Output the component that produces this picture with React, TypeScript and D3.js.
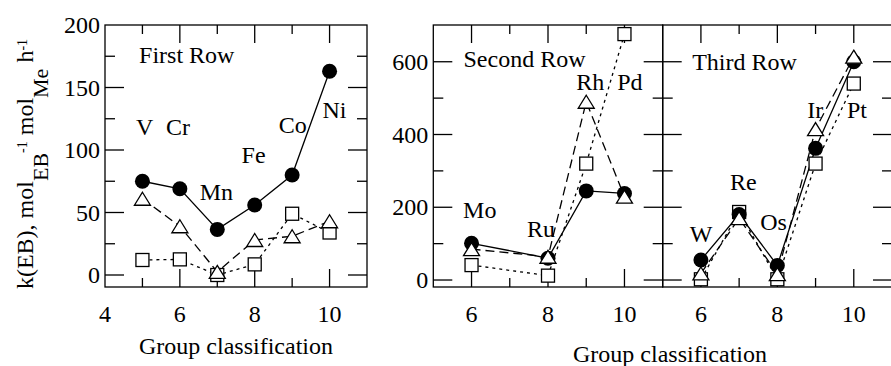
import React from 'react';
import * as d3 from 'd3';

// group numbers and k(EB) values
const groupsFirst = [5, 6, 7, 8, 9, 10];
const firstCircle = [75, 69, 36.5, 56, 80, 163];
const firstTriangle = [61, 39, 2.5, 28, 31, 43];
const firstSquare = [12, 12.5, 0, 8.5, 49, 34];

const groupsSecond = [6, 8, 9, 10];
const secondCircle = [101, 60, 245, 238];
const secondTriangle = [85, 64, 490, 229];
const secondSquare = [41, 12, 320, 676];

const groupsThird = [6, 7, 8, 9, 10];
const thirdCircle = [55, 180, 40, 362, 600];
const thirdTriangle = [18, 170, 16, 415, 614];
const thirdSquare = [2, 187, 2, 320, 540];

// element labels, anchored at (group, value) = text start / baseline
const firstLabels = [
	{ text: 'First Row', g: 4.91, v: 170 },
	{ text: 'V', g: 4.83, v: 112 },
	{ text: 'Cr', g: 5.63, v: 112 },
	{ text: 'Mn', g: 6.53, v: 60 },
	{ text: 'Fe', g: 7.65, v: 90 },
	{ text: 'Co', g: 8.64, v: 113.5 },
	{ text: 'Ni', g: 9.81, v: 125.5 },
];
const secondLabels = [
	{ text: 'Second Row', g: 5.79, v: 586 },
	{ text: 'Mo', g: 5.78, v: 170 },
	{ text: 'Ru', g: 7.45, v: 118 },
	{ text: 'Rh', g: 8.74, v: 522 },
	{ text: 'Pd', g: 9.81, v: 522 },
];
const thirdLabels = [
	{ text: 'Third Row', g: 5.77, v: 577 },
	{ text: 'W', g: 5.71, v: 104 },
	{ text: 'Re', g: 6.76, v: 247 },
	{ text: 'Os', g: 7.55, v: 137 },
	{ text: 'Ir', g: 8.78, v: 445 },
	{ text: 'Pt', g: 9.82, v: 445 },
];

const firstXTicks = [4, 6, 8, 10];
const otherXTicks = [6, 8, 10];
const firstYTicks = [0, 50, 100, 150, 200];
const otherYTicks = [0, 200, 400, 600];

const FONT = '"Liberation Serif", "Times New Roman", serif';
const TOP = 25;
const BOTTOM = 287;

type Label = { text: string; g: number; v: number };

interface PanelProps {
	xDomain: [number, number];
	xRange: [number, number];
	yDomain: [number, number];
	groups: number[];
	circle: number[];
	triangle: number[];
	square: number[];
	labels: Label[];
	xTicks: number[];
	yTicks: number[] | null;
	yMinorStep: number;
	yMajorStep: number;
}

const Panel: React.FC<PanelProps> = ({
	xDomain,
	xRange,
	yDomain,
	groups,
	circle,
	triangle,
	square,
	labels,
	xTicks,
	yTicks,
	yMinorStep,
	yMajorStep,
}) => {
	const x = d3.scaleLinear().domain(xDomain).range(xRange);
	const y = d3.scaleLinear().domain(yDomain).range([BOTTOM, TOP]);
	const [x0, x1] = xRange;

	const line = (vals: number[]) =>
		d3
			.line<number>()
			.x((_, i) => x(groups[i]))
			.y((d) => y(d))(vals) ?? '';

	// tick marks: every integer on x, every minor step on y; even/major are longer
	const xt: number[] = [];
	for (let g = Math.ceil(xDomain[0]); g <= xDomain[1]; g++) {
		if (x(g) > x0 + 1 && x(g) < x1 - 1) xt.push(g);
	}
	const yt: number[] = [];
	for (let v = 0; v <= yDomain[1]; v += yMinorStep) {
		if (y(v) > TOP + 1) yt.push(v);
	}
	const major = 19;
	const minor = 10;

	const tri = (cx: number, cy: number) => {
		const w = 8;
		const h = 6.5;
		return `M${cx},${cy - h}L${cx + w},${cy + h}L${cx - w},${cy + h}Z`;
	};

	return (
		<g>
			<rect
				x={x0}
				y={TOP}
				width={x1 - x0}
				height={BOTTOM - TOP}
				fill="none"
				stroke="#000"
				strokeWidth={1.3}
			/>
			{xt.map((g) => {
				const len = g % 2 === 0 ? major - 1 : minor - 1;
				return (
					<g key={`xt${g}`} stroke="#000" strokeWidth={1.3}>
						<line x1={x(g)} x2={x(g)} y1={BOTTOM} y2={BOTTOM - len} />
						<line x1={x(g)} x2={x(g)} y1={TOP} y2={TOP + len} />
					</g>
				);
			})}
			{yt.map((v) => {
				const len = v % yMajorStep === 0 ? major : minor;
				return (
					<g key={`yt${v}`} stroke="#000" strokeWidth={1.3}>
						<line x1={x0} x2={x0 + len} y1={y(v)} y2={y(v)} />
						<line x1={x1} x2={x1 - len} y1={y(v)} y2={y(v)} />
					</g>
				);
			})}
			{xTicks.map((g) => (
				<text
					key={`xl${g}`}
					x={x(g)}
					y={322}
					textAnchor="middle"
					fontFamily={FONT}
					fontSize={24}>
					{g}
				</text>
			))}
			{yTicks &&
				yTicks.map((v) => (
					<text
						key={`yl${v}`}
						x={x0 - 5}
						y={y(v) + 8}
						textAnchor="end"
						fontFamily={FONT}
						fontSize={24}>
						{v}
					</text>
				))}
			<path d={line(square)} fill="none" stroke="#000" strokeWidth={1.3} strokeDasharray="3,4" />
			<path d={line(triangle)} fill="none" stroke="#000" strokeWidth={1.3} strokeDasharray="9,5" />
			<path d={line(circle)} fill="none" stroke="#000" strokeWidth={1.3} />
			{square.map((v, i) => (
				<rect
					key={`s${i}`}
					x={x(groups[i]) - 6.5}
					y={y(v) - 6.5}
					width={13}
					height={13}
					fill="#fff"
					stroke="#000"
					strokeWidth={1.3}
				/>
			))}
			{circle.map((v, i) => (
				<circle key={`c${i}`} cx={x(groups[i])} cy={y(v)} r={7.5} fill="#000" />
			))}
			{triangle.map((v, i) => (
				<path
					key={`t${i}`}
					d={tri(x(groups[i]), y(v))}
					fill="#fff"
					stroke="#000"
					strokeWidth={1.3}
				/>
			))}
			{labels.map((l) => (
				<text key={l.text} x={x(l.g)} y={y(l.v)} fontFamily={FONT} fontSize={24}>
					{l.text}
				</text>
			))}
		</g>
	);
};

const App: React.FC = () => {
	const w = 891;
	const h = 366;
	return (
		<svg
			width={w}
			height={h}
			style={{ position: 'absolute', left: 0, top: 0, background: '#fff' }}>
			<Panel
				xDomain={[4, 11]}
				xRange={[105, 367]}
				yDomain={[-9.6, 200]}
				groups={groupsFirst}
				circle={firstCircle}
				triangle={firstTriangle}
				square={firstSquare}
				labels={firstLabels}
				xTicks={firstXTicks}
				yTicks={firstYTicks}
				yMinorStep={25}
				yMajorStep={50}
			/>
			<Panel
				xDomain={[5, 11]}
				xRange={[433.3, 662.7]}
				yDomain={[-19.2, 701]}
				groups={groupsSecond}
				circle={secondCircle}
				triangle={secondTriangle}
				square={secondSquare}
				labels={secondLabels}
				xTicks={otherXTicks}
				yTicks={otherYTicks}
				yMinorStep={100}
				yMajorStep={200}
			/>
			<Panel
				xDomain={[5, 11]}
				xRange={[662.7, 892]}
				yDomain={[-19.2, 701]}
				groups={groupsThird}
				circle={thirdCircle}
				triangle={thirdTriangle}
				square={thirdSquare}
				labels={thirdLabels}
				xTicks={otherXTicks}
				yTicks={null}
				yMinorStep={100}
				yMajorStep={200}
			/>
			<text x={236} y={354} textAnchor="middle" fontFamily={FONT} fontSize={24}>
				Group classification
			</text>
			<text x={670} y={362} textAnchor="middle" fontFamily={FONT} fontSize={24}>
				Group classification
			</text>
			<text
				transform="translate(33,164) rotate(-90)"
				textAnchor="middle"
				fontFamily={FONT}
				fontSize={24}>
				k(EB), mol
				<tspan dy={15} fontSize={22}>EB</tspan>
				<tspan dy={-21} fontSize={14}>-1</tspan>
				<tspan dy={6}> mol</tspan>
				<tspan dy={15} fontSize={22}>Me</tspan>
				<tspan dy={-15}> h</tspan>
				<tspan dy={-6} fontSize={14}>-1</tspan>
			</text>
		</svg>
	);
};

export default App;
